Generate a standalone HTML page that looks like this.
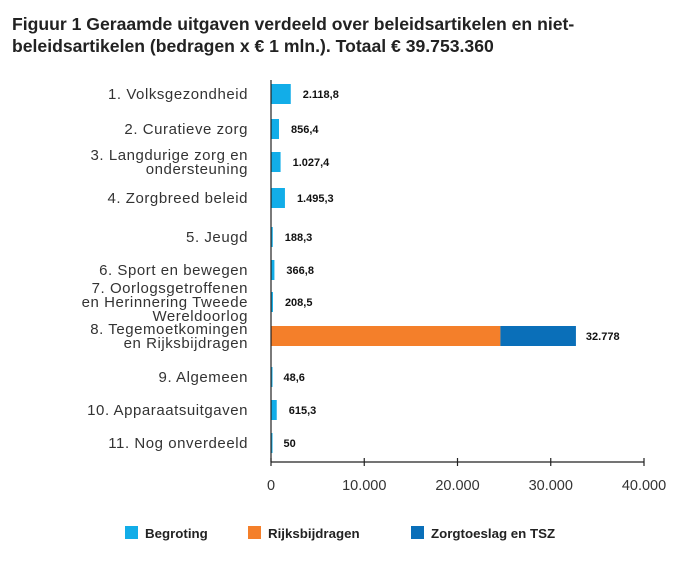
<!DOCTYPE html>
<html><head><meta charset="utf-8"><style>
body{margin:0;background:#fff;width:691px;height:566px;overflow:hidden;font-family:"Liberation Sans",sans-serif}
#title{position:absolute;left:12px;top:13px;font-size:17.6px;font-weight:bold;color:#222;line-height:22px;width:680px;white-space:nowrap}
</style></head><body>
<div id="title">Figuur 1 Geraamde uitgaven verdeeld over beleidsartikelen en niet-<br>beleidsartikelen (bedragen x € 1 mln.). Totaal € 39.753.360</div>
<svg id="chart" width="691" height="566" style="position:absolute;left:0;top:0"></svg>
<script>
const categories=[["1. Volksgezondheid"],["2. Curatieve zorg"],["3. Langdurige zorg en","ondersteuning"],["4. Zorgbreed beleid"],["5. Jeugd"],["6. Sport en bewegen"],["7. Oorlogsgetroffenen","en Herinnering Tweede","Wereldoorlog"],["8. Tegemoetkomingen","en Rijksbijdragen"],["9. Algemeen"],["10. Apparaatsuitgaven"],["11. Nog onverdeeld"]];
const begroting=[2118.8,856.4,1027.4,1495.3,188.3,366.8,208.5,0,48.6,615.3,50];
const rijksbijdragen=[0,0,0,0,0,0,0,24600,0,0,0];
const zorgtoeslag=[0,0,0,0,0,0,0,8100,0,0,0];
const valueLabels=["2.118,8","856,4","1.027,4","1.495,3","188,3","366,8","208,5","32.778","48,6","615,3","50"];
const ticks=[0,10000,20000,30000,40000];
const tickLabels=["0","10.000","20.000","30.000","40.000"];
const rowY=[94,129,162,198,237,270,302,336,377,410,443];
const svg=document.getElementById('chart');
const NS='http://www.w3.org/2000/svg';
const x0=271,x1=644,maxV=40000;
const xs=v=>x0+v/maxV*(x1-x0);
function mk(t,a){const e=document.createElementNS(NS,t);for(const k in a)e.setAttribute(k,a[k]);svg.appendChild(e);return e;}
const colors=['#12ade8','#f47f2a','#0a6fb9'];
categories.forEach((c,i)=>{
  const cy=rowY[i];
  const n=c.length;
  c.forEach((line,j)=>{
    const t=mk('text',{x:248,y:cy+5+(j-(n-1)/2)*14,'text-anchor':'end','font-size':'15','letter-spacing':'0.55','fill':'#333'});
    t.textContent=line;
    
    
  });
  let acc=0;
  [begroting,rijksbijdragen,zorgtoeslag].forEach((s,k)=>{
    const v=s[i]; if(v<=0)return;
    const r=mk('rect',{x:xs(acc),y:cy-10,width:Math.max(1.5,xs(acc+v)-xs(acc)),height:20,fill:colors[k]});
    
    
    acc+=v;
  });
  const vt=mk('text',{x:xs(acc)+(i==7?10:12),y:cy+4,'font-size':'11','font-weight':'bold','fill':'#111'});
  vt.textContent=valueLabels[i];
  
  
});
let a=mk('line',{x1:x0,y1:80,x2:x0,y2:462,stroke:'#222','stroke-width':1.2});


a=mk('line',{x1:x0,y1:462,x2:x1,y2:462,stroke:'#222','stroke-width':1.2});


ticks.forEach((v,i)=>{
  const tk=mk('line',{x1:xs(v),y1:458,x2:xs(v),y2:466,stroke:'#222','stroke-width':1.2});
  
  
  const t=mk('text',{x:xs(v),y:490,'text-anchor':'middle','font-size':'14.5','fill':'#333'});
  t.textContent=tickLabels[i];
  
  
});
const legend=[["Begroting",125],["Rijksbijdragen",248],["Zorgtoeslag en TSZ",411]];
legend.forEach((l,k)=>{
  const r=mk('rect',{x:l[1],y:526,width:13,height:13,fill:colors[k]});
  
  
  const t=mk('text',{x:l[1]+20,y:538,'font-size':'13.3','font-weight':'bold','fill':'#222'});
  t.textContent=l[0];
  
  
});
</script>
</body></html>
